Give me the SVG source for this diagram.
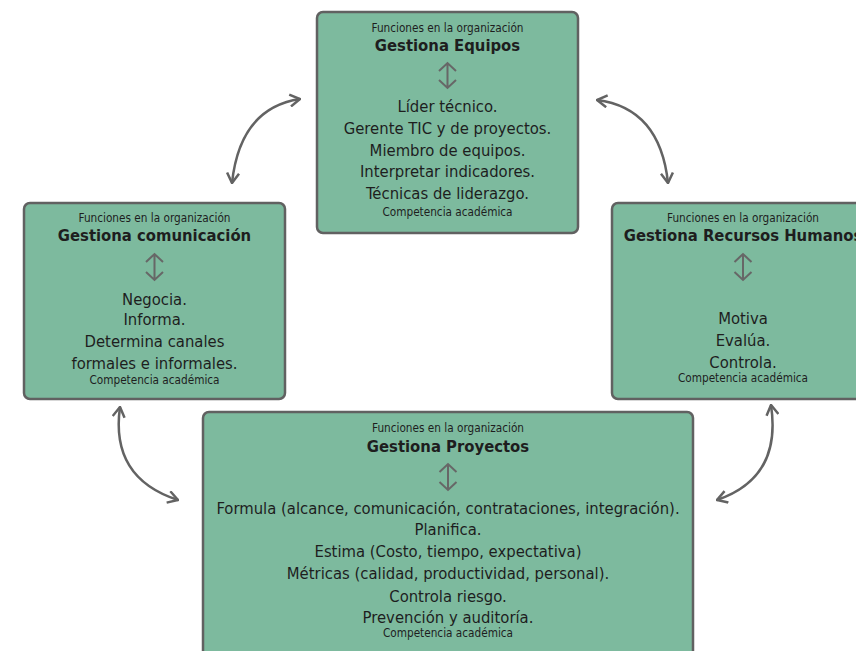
<svg xmlns="http://www.w3.org/2000/svg" width="856" height="651" viewBox="0 0 856 651">
<defs>
<style>
.box{fill:#7dba9e;stroke:#616161;stroke-width:2.5}
text{font-family:"DejaVu Sans Condensed","DejaVu Sans",sans-serif;font-stretch:condensed;fill:#1e1e1e;text-anchor:middle}
.sm{font-size:11.7px}
.tt{font-size:16.5px;font-weight:bold}
.bd{font-size:16.5px}
.ico{fill:none;stroke:#676767;stroke-width:2}
.con{fill:none;stroke:#636363;stroke-width:2.5}
</style>
<marker id="ah" viewBox="0 0 12 14" refX="11" refY="7" markerWidth="12" markerHeight="14" markerUnits="userSpaceOnUse" orient="auto-start-reverse">
<path d="M1,1 L11,7 L1,13" fill="none" stroke="#636363" stroke-width="2.5"/>
</marker>
</defs>
<rect width="856" height="651" fill="#ffffff"/>
<g id="connectors">
<path class="con" d="M232,183 Q240,108 300,99" marker-start="url(#ah)" marker-end="url(#ah)"/>
<path class="con" d="M668,183 Q660,108 597,100" marker-start="url(#ah)" marker-end="url(#ah)"/>
<path class="con" d="M120,407 Q110,478 178,500" marker-start="url(#ah)" marker-end="url(#ah)"/>
<path class="con" d="M771,405 Q782,478 717,500" marker-start="url(#ah)" marker-end="url(#ah)"/>
</g>
<g id="equipos">
<rect class="box" x="317" y="12" width="261" height="221" rx="6"/>
<text class="sm" x="447.5" y="31.5">Funciones en la organización</text>
<text class="tt" x="447.5" y="50.5">Gestiona Equipos</text>
<path class="ico" d="M447.5,63 V88 M439,71 L447.5,63 L456,71 M439,80 L447.5,88 L456,80"/>
<text class="bd" x="447.5" y="111.5">Líder técnico.</text>
<text class="bd" x="447.5" y="133.5">Gerente TIC y de proyectos.</text>
<text class="bd" x="447.5" y="155.5">Miembro de equipos.</text>
<text class="bd" x="447.5" y="177">Interpretar indicadores.</text>
<text class="bd" x="447.5" y="199">Técnicas de liderazgo.</text>
<text class="sm" x="447.5" y="215.5">Competencia académica</text>
</g>
<g id="comunicacion">
<rect class="box" x="24" y="203" width="261" height="196" rx="6"/>
<text class="sm" x="154.5" y="222">Funciones en la organización</text>
<text class="tt" x="154.5" y="241">Gestiona comunicación</text>
<path class="ico" d="M154.5,254 V280 M146,262 L154.5,254 L163,262 M146,272 L154.5,280 L163,272"/>
<text class="bd" x="154.5" y="304.5">Negocia.</text>
<text class="bd" x="154.5" y="325">Informa.</text>
<text class="bd" x="154.5" y="347">Determina canales</text>
<text class="bd" x="154.5" y="368.5">formales e informales.</text>
<text class="sm" x="154.5" y="384">Competencia académica</text>
</g>
<g id="rrhh">
<rect class="box" x="612" y="203" width="262" height="196" rx="6"/>
<text class="sm" x="743" y="222">Funciones en la organización</text>
<text class="tt" x="743" y="241">Gestiona Recursos Humanos</text>
<path class="ico" d="M743,254 V280 M734.5,262 L743,254 L751.5,262 M734.5,272 L743,280 L751.5,272"/>
<text class="bd" x="743" y="324">Motiva</text>
<text class="bd" x="743" y="346">Evalúa.</text>
<text class="bd" x="743" y="368">Controla.</text>
<text class="sm" x="743" y="382">Competencia académica</text>
</g>
<g id="proyectos">
<rect class="box" x="203" y="412" width="490" height="250" rx="6"/>
<text class="sm" x="448" y="432">Funciones en la organización</text>
<text class="tt" x="448" y="452">Gestiona Proyectos</text>
<path class="ico" d="M448,464 V490 M439.5,472 L448,464 L456.5,472 M439.5,482 L448,490 L456.5,482"/>
<text class="bd" x="448" y="513.5">Formula (alcance, comunicación, contrataciones, integración).</text>
<text class="bd" x="448" y="535">Planifica.</text>
<text class="bd" x="448" y="557">Estima (Costo, tiempo, expectativa)</text>
<text class="bd" x="448" y="579">Métricas (calidad, productividad, personal).</text>
<text class="bd" x="448" y="601.5">Controla riesgo.</text>
<text class="bd" x="448" y="623">Prevención y auditoría.</text>
<text class="sm" x="448" y="637">Competencia académica</text>
</g>
</svg>
